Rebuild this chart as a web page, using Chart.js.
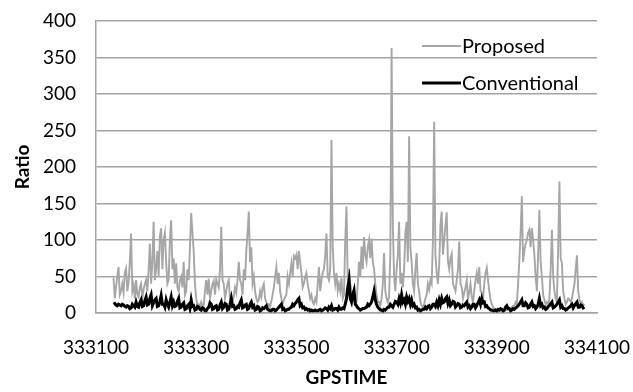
<!DOCTYPE html>
<html>
<head>
<meta charset="utf-8">
<script src="https://cdn.jsdelivr.net/npm/chart.js@4.4.1/dist/chart.umd.min.js"></script>
<style>
html,body{margin:0;padding:0;background:#fff;}
#wrap{width:633px;height:392px;position:relative;}
</style>
</head>
<body>
<div id="wrap"><canvas id="c" width="633" height="392"></canvas></div>
<script>
const seriesNames = ["Proposed", "Conventional"];
const startTime = 333135;
const timeStep = 2.5;
const xTicks = [333100, 333300, 333500, 333700, 333900, 334100];
const yTicks = [0, 50, 100, 150, 200, 250, 300, 350, 400];

const proposed = [
  48,20,35,50,63,25,30,40,28,55,61,30,42,70,109,30,38,20,45,25,
  22,35,40,20,32,40,45,30,58,95,40,70,125,45,60,85,50,105,116,60,
  100,110,70,40,45,100,127,60,75,40,68,35,30,45,50,35,70,25,30,60,
  45,90,137,110,85,40,20,10,12,8,15,10,10,30,45,25,47,20,30,40,
  44,25,46,40,35,60,118,45,40,20,30,40,45,20,25,15,22,35,28,45,
  70,45,40,25,60,45,85,110,139,70,90,40,50,30,20,15,18,30,22,35,
  40,20,15,10,12,8,16,25,35,50,63,40,55,30,20,12,18,22,25,50,
  40,55,68,50,78,75,80,60,85,70,55,35,40,50,55,40,30,20,25,15,
  12,20,15,40,63,30,45,55,60,80,109,50,45,60,237,90,55,40,55,30,
  40,30,48,20,25,100,146,45,60,40,30,25,20,12,15,40,70,50,91,60,
  104,80,70,90,100,75,102,70,60,40,25,15,15,10,20,40,82,30,20,15,
  22,80,363,120,50,30,60,80,125,40,55,35,60,110,125,70,242,90,70,40,
  30,60,82,40,30,15,10,8,12,20,25,40,32,45,40,100,262,80,55,40,
  65,120,139,80,100,120,138,70,60,75,81,40,35,30,45,60,98,40,35,20,
  28,35,45,20,28,40,22,15,30,45,55,40,63,30,28,20,40,55,62,45,
  30,18,12,8,6,5,4,3,3,3,4,3,3,4,5,4,4,6,8,10,
  10,15,12,40,72,110,160,70,85,95,100,110,114,90,116,100,80,50,30,80,
  141,70,50,25,18,12,15,12,20,60,114,50,30,20,15,90,180,75,68,30,
  20,12,15,20,18,15,20,30,40,60,79,30,18,12,15,10,12
];
const conventional = [
  12,13,11,10,12,11,10,12,11,9,8,10,9,6,7,12,10,8,15,9,
  8,14,18,9,10,17,22,11,12,20,25,10,14,18,20,9,10,16,24,12,
  12,8,18,12,8,15,22,10,15,9,10,16,20,7,8,12,14,5,6,10,
  12,6,18,9,10,4,5,9,8,5,4,7,6,3,3,6,8,14,12,5,
  6,9,10,4,5,11,15,6,8,13,12,4,5,12,20,9,10,5,6,9,
  8,14,18,7,8,11,12,5,6,12,15,8,10,4,5,9,8,3,4,7,
  6,8,10,5,4,3,3,5,5,3,4,6,8,10,12,5,6,3,4,5,
  5,7,8,12,10,13,15,18,20,10,12,7,8,5,6,4,5,3,4,3,
  3,4,3,3,4,5,3,4,5,7,6,4,8,6,10,4,5,6,6,4,
  8,5,5,7,6,12,20,35,45,20,15,25,31,12,10,7,6,4,5,6,
  6,7,8,12,10,12,15,22,30,18,12,8,6,4,4,3,5,4,6,8,
  8,12,10,8,12,16,15,12,20,14,25,15,18,12,22,16,20,12,18,10,
  12,7,8,4,5,3,4,5,5,8,6,9,10,6,8,12,12,9,15,10,
  18,12,20,14,15,20,22,13,18,10,12,16,15,8,10,13,12,7,8,11,
  10,13,15,8,10,6,8,12,12,7,10,14,18,12,20,14,15,9,10,7,
  6,4,4,3,3,4,3,5,4,6,5,3,4,8,10,6,6,3,4,6,
  5,7,8,10,12,15,18,10,10,14,12,7,8,12,15,9,10,6,8,12,
  20,10,12,7,8,5,6,9,10,13,15,7,8,10,12,15,18,8,10,6,
  6,4,5,7,8,10,12,7,10,13,15,8,8,11,10,7,8
];
const times = proposed.map((_, i) => startTime + i * timeStep);

const FONT = "Lato, 'Open Sans', sans-serif";
const GRAY = '#a6a6a6';
const GRID = '#a3a3a3';

const legendPlugin = {
  id: 'insideLegend',
  afterDraw(chart) {
    const ctx = chart.ctx;
    const ys = chart.scales.y;
    const items = [
      {label: seriesNames[0], color: GRAY, width: 2, v: 366},
      {label: seriesNames[1], color: '#000', width: 3, v: 315}
    ];
    ctx.save();
    ctx.font = "20px " + FONT;
    ctx.textBaseline = 'middle';
    items.forEach(it => {
      const y = Math.round(ys.getPixelForValue(it.v));
      const x0 = 422, x1 = 461;
      ctx.strokeStyle = it.color;
      ctx.lineWidth = it.width;
      ctx.beginPath(); ctx.moveTo(x0, y); ctx.lineTo(x1, y); ctx.stroke();
      ctx.fillStyle = '#000';
      ctx.fillText(it.label, x1 + 1, y + 1);
    });
    ctx.restore();
  }
};

new Chart(document.getElementById('c'), {
  type: 'line',
  data: {
    datasets: [
      {
        label: seriesNames[0],
        data: times.map((t, i) => ({x: t, y: proposed[i]})),
        borderColor: GRAY, borderWidth: 1.9, pointRadius: 0, tension: 0, order: 1
      },
      {
        label: seriesNames[1],
        data: times.map((t, i) => ({x: t, y: conventional[i]})),
        borderColor: '#000', borderWidth: 3, pointRadius: 0, tension: 0, order: 0
      }
    ]
  },
  options: {
    responsive: false,
    animation: false,
    devicePixelRatio: 1,
    layout: {padding: {top: 21, right: 36, left: 0, bottom: 0}},
    plugins: {legend: {display: false}, tooltip: {enabled: false}},
    scales: {
      x: {
        type: 'linear', min: xTicks[0], max: xTicks[xTicks.length - 1],
        afterBuildTicks(s) { s.ticks = xTicks.map(v => ({value: v})); },
        ticks: {color: '#000', font: {family: FONT, size: 19}, padding: 23,
          callback: v => String(v), maxRotation: 0, autoSkip: false},
        grid: {display: false, drawTicks: false},
        border: {display: true, color: GRID, width: 1.5},
        title: {display: true, text: 'GPSTIME', color: '#000',
          font: {family: FONT, size: 19, weight: 'bold'}, padding: {top: 4, bottom: 3}},
        afterFit(s) { s.height = 79; s.paddingLeft = 0; s.paddingRight = 0; }
      },
      y: {
        min: 0, max: 400,
        afterBuildTicks(s) { s.ticks = yTicks.map(v => ({value: v})); },
        ticks: {color: '#000', font: {family: FONT, size: 19}, padding: 20},
        grid: {color: GRID, lineWidth: 1.5, drawTicks: false},
        border: {display: true, color: GRID, width: 1.5},
        title: {display: true, text: 'Ratio', color: '#000',
          font: {family: FONT, size: 19, weight: 'bold'}, padding: {top: 11, bottom: 10}},
        afterFit(s) { s.width = 96; s.paddingTop = 0; s.paddingBottom = 0; }
      }
    }
  },
  plugins: [legendPlugin]
});
</script>
</body>
</html>
